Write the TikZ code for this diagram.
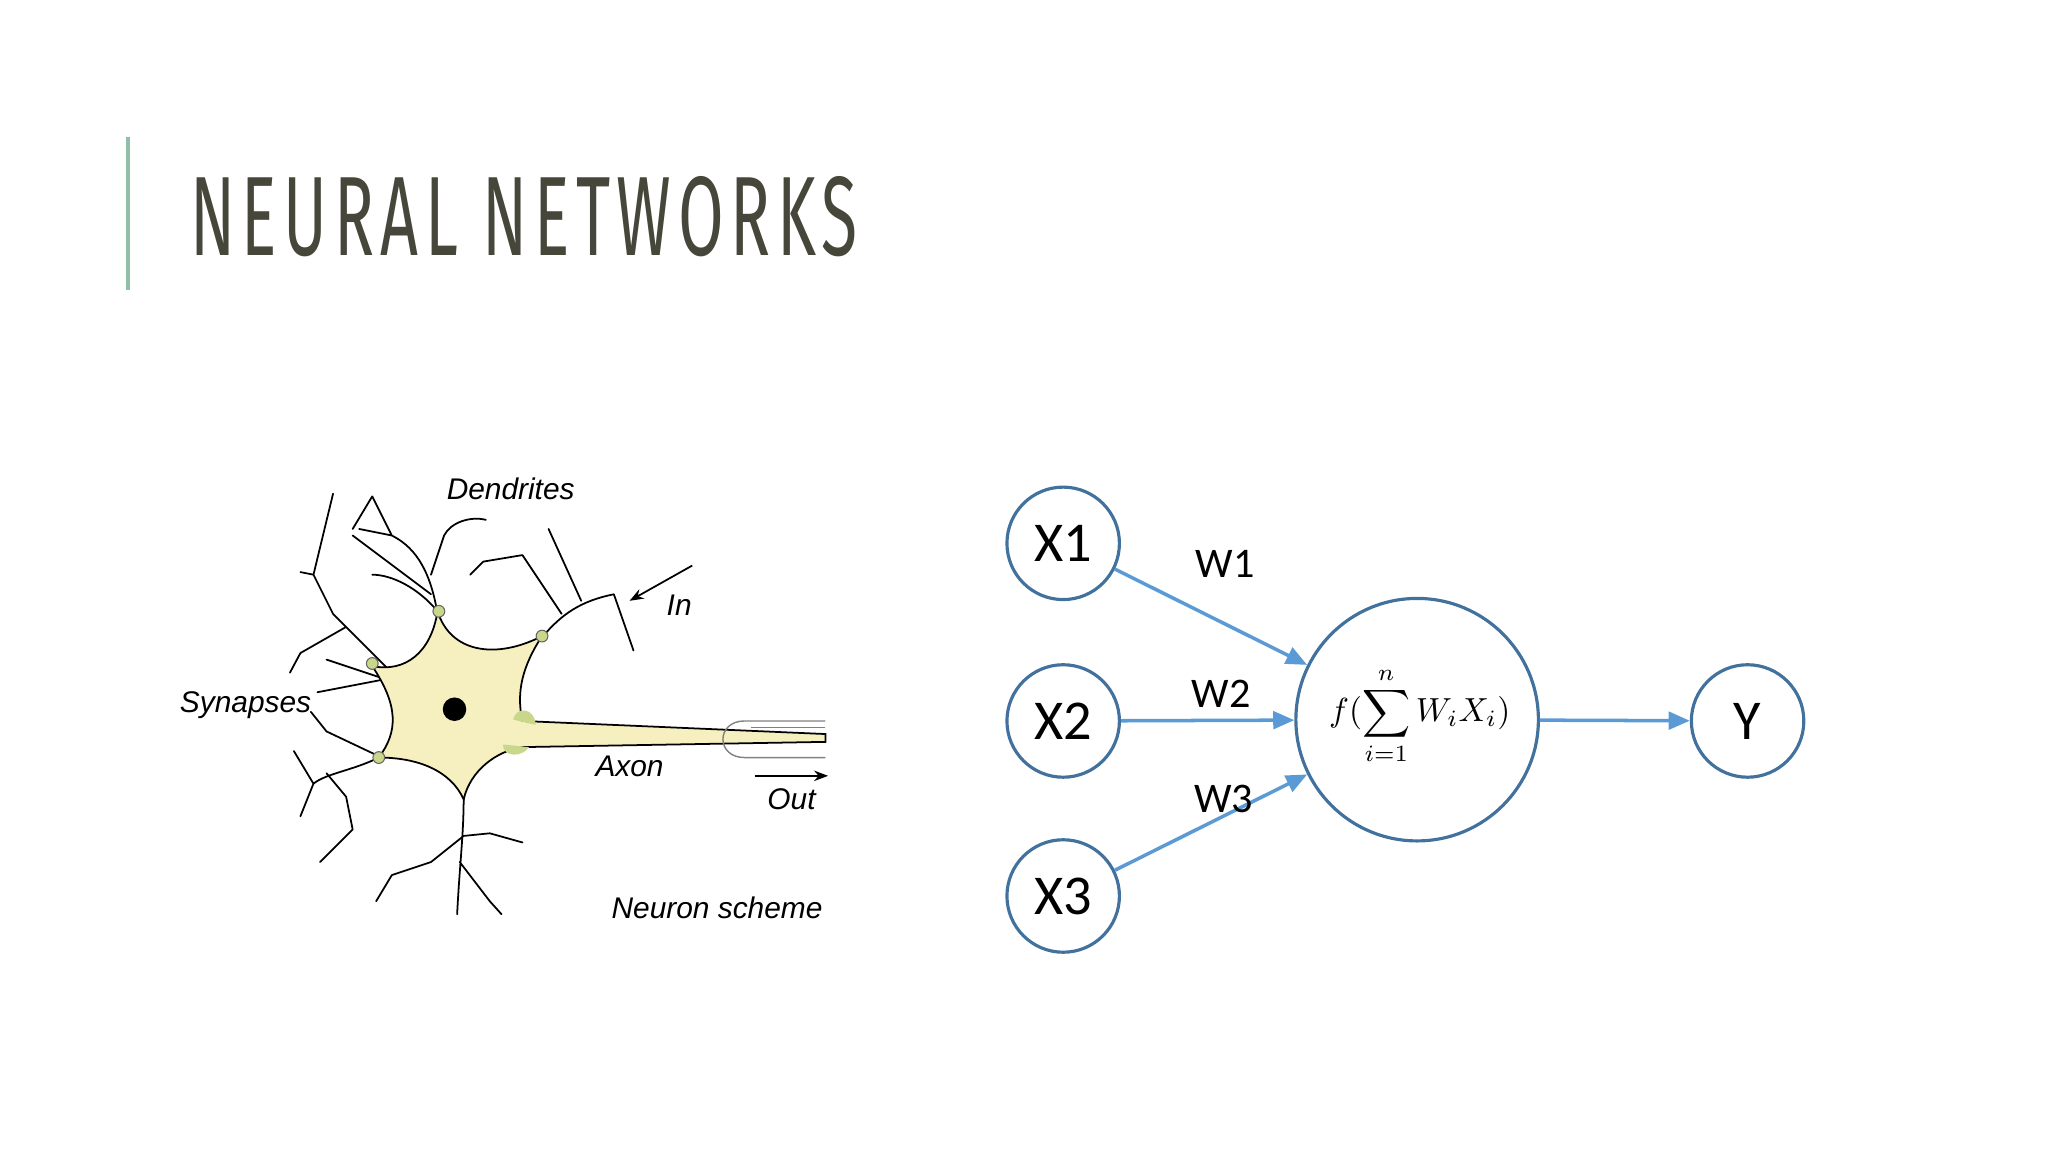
\documentclass[tikz,border=0pt]{standalone}
\usepackage{fontspec}
\usepackage{amsmath}
\setmainfont{Carlito}
\newfontfamily\arialf{Liberation Sans}
\newfontfamily\titlef[LetterSpace=10]{Fira Sans}
\usetikzlibrary{arrows.meta}
\definecolor{ttl}{HTML}{46473A}
\definecolor{bar}{HTML}{8FBFA9}
\definecolor{nd}{HTML}{41719C}
\definecolor{ar}{HTML}{5B9BD5}
\definecolor{soma}{HTML}{F6EFC0}
\definecolor{syn}{HTML}{C9D78A}
\begin{document}
\begin{tikzpicture}[x=0.01306cm,y=-0.01306cm,
  neur/.style={circle,draw=nd,line width=0.9pt,inner sep=0pt,font=\fontsize{16}{18}\selectfont},
  conn/.style={draw=ar,line width=1pt,-{Triangle[length=6pt,width=5pt]}},
  wl/.style={font=\fontsize{12}{14}\selectfont},
  lab/.style={font=\arialf\itshape\fontsize{8.5}{10}\selectfont},
  den/.style={line width=0.5pt,line cap=round}]
\useasboundingbox (0,0) rectangle (1568,882);
\draw[bar,line width=1pt] (98,105) -- (98,222);
\node[anchor=west,inner sep=0pt,text=ttl] (title) at (145,166) {\titlef\resizebox{190pt}{22.5pt}{NEURAL NETWORKS}};
% network
\node[neur,minimum size=32pt] (x1) at (814,416) {X1};
\node[neur,minimum size=32pt] (x2) at (814,552) {X2};
\node[neur,minimum size=32pt] (x3) at (814,686) {X3};
\node[neur,minimum size=69pt] (f) at (1085,551) {};
\node[inner sep=0pt] (fx) at (1087,548) {\scalebox{0.95}{$\displaystyle f(\sum_{i=1}^{n}W_iX_i)$}};
\node[neur,minimum size=32pt] (y) at (1338,552) {Y};
\draw[conn] (x1) -- (f);
\draw[conn] (x2) -- (f);
\draw[conn] (x3) -- (f);
\draw[conn] (f) -- (y);
\node[wl] (w1) at (938,432) {W1};
\node[wl] (w2) at (935,531) {W2};
\node[wl] (w3) at (937,612) {W3};
% neuron
\draw[den] (335,470) .. controls (330,440) and (320,420) .. (300,410) (330,440) -- (340,410) (300,410) -- (275,405) (300,410)--(285,380)
 (340,410) .. controls (345,400) and (360,395) .. (372,398)
 (285,380) -- (270,405);
\draw[den] (300,515) .. controls (280,495) and (265,480) .. (255,470) (255,470) -- (240,440) (240,440)--(230,438) (240,440)--(255,378) (265,480)--(230,500) (230,500)--(222,515);
\draw[den] (290,580) .. controls (270,590) and (250,592) .. (240,600) (240,600) -- (230,625) (250,592) -- (265,610) (265,610)--(270,635) (270,635)--(245,660)
 (240,600)--(225,575);
\draw[den] (295,520) -- (250,505) (295,520)--(243,530) (288,578) -- (250,560) (250,560)--(238,545);
\draw[den] (355,610) .. controls (355,640) and (352,660) .. (350,700) (355,640) -- (330,660) (330,660)--(300,670)(300,670)--(288,690)
 (352,660) -- (375,690) (375,690)--(384,700) (355,640)--(375,638)(375,638)--(400,645);
\draw[den] (415,488) .. controls (430,470) and (445,460) .. (470,455) (445,460)--(420,405) (470,455)--(485,498) (430,470)--(400,425) (400,425)--(370,430) (370,430)--(360,440);
\draw[den] (335,468) .. controls (320,450) and (300,440) .. (285,440) (330,455)--(270,410);
\draw[fill=soma,line width=0.5pt] (335,468) .. controls (345,500) and (380,505) .. (415,487)
 .. controls (400,510) and (395,530) .. (400,552) -- (632,562) -- (632,568)
 -- (400,572) .. controls (380,575) and (360,590) .. (355,612)
 .. controls (345,590) and (320,580) .. (290,580)
 .. controls (305,560) and (305,540) .. (285,510)
 .. controls (310,515) and (330,500) .. (335,468) -- cycle;
\fill[black] (348,543) circle (9);
\draw[gray,line width=0.4pt] (632,552) -- (570,552) .. controls (548,552) and (548,580) .. (570,580) -- (632,580);
\draw[gray,line width=0.4pt] (632,557) -- (575,557);
\foreach \p in {(336,468),(415,487),(285,508),(290,580)} \fill[syn,draw=black!60,line width=0.3pt] \p circle (4.5);
\fill[syn] (393,551) .. controls (395,540) and (410,542) .. (410,555) -- cycle;
\fill[syn] (385,570) .. controls (385,580) and (400,580) .. (405,572) -- cycle;
\node[lab] (dend) at (391,374) {Dendrites};
\node[lab] (in) at (520,463) {In};
\node[lab] (syns) at (188,540) {Synapses};
\node[lab] (axon) at (482,587) {Axon};
\node[lab] (out) at (606,612) {Out};
\node[lab] (ns) at (549,695) {Neuron scheme};
\coordinate (ia) at (530,433); \coordinate (ib) at (482,460);
\draw[-{Stealth[length=4pt]},line width=0.5pt] (ia) -- (ib);
\coordinate (oa) at (578,594); \coordinate (ob) at (634,594);
\draw[-{Stealth[length=4pt]},line width=0.5pt] (oa) -- (ob);
\end{tikzpicture}
\end{document}
